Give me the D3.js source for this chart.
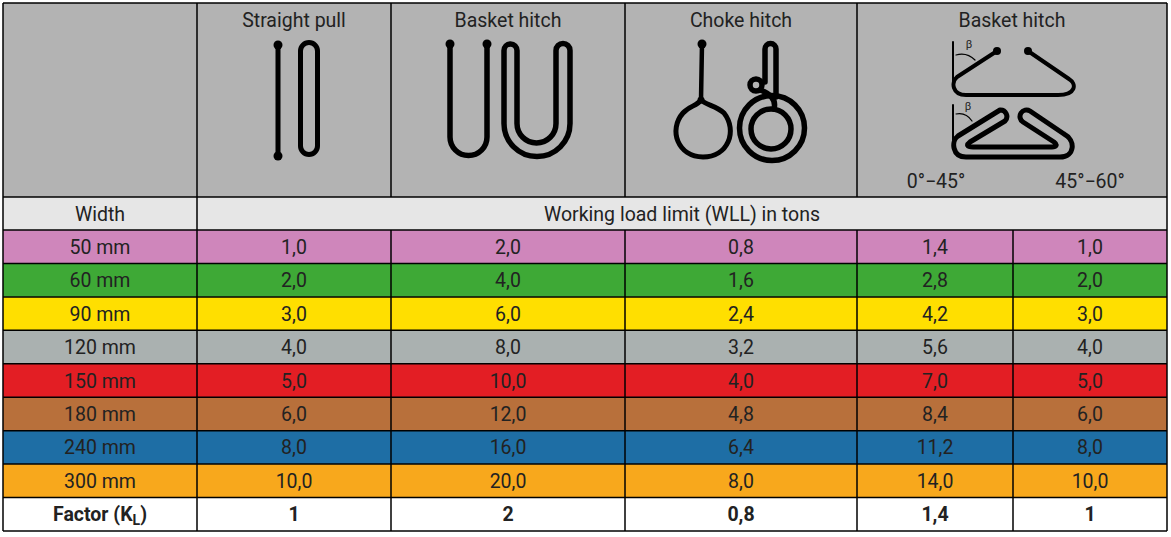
<!DOCTYPE html>
<html>
<head>
<meta charset="utf-8">
<script src="https://cdn.jsdelivr.net/npm/d3@7"></script>
<style>
  body { margin: 0; background: #fff; }
  text { font-family: Roboto, "Noto Sans", sans-serif; fill: #222; }
</style>
</head>
<body>
<div id="chart"></div>
<script>
// Table data
const widths = ["50 mm", "60 mm", "90 mm", "120 mm", "150 mm", "180 mm", "240 mm", "300 mm"];
const rowColors = ["#cf86bb", "#3ea936", "#ffdf00", "#aab1b0", "#e31e24", "#b8703b", "#1e6ea5", "#f8a81c"];
const straightPull = ["1,0", "2,0", "3,0", "4,0", "5,0", "6,0", "8,0", "10,0"];
const basketHitch = ["2,0", "4,0", "6,0", "8,0", "10,0", "12,0", "16,0", "20,0"];
const chokeHitch = ["0,8", "1,6", "2,4", "3,2", "4,0", "4,8", "6,4", "8,0"];
const basket0to45 = ["1,4", "2,8", "4,2", "5,6", "7,0", "8,4", "11,2", "14,0"];
const basket45to60 = ["1,0", "2,0", "3,0", "4,0", "5,0", "6,0", "8,0", "10,0"];
const factors = ["1", "2", "0,8", "1,4", "1"];
const headers = ["Straight pull", "Basket hitch", "Choke hitch", "Basket hitch"];
const angleLabels = ["0°−45°", "45°−60°"];

const W = 1171, H = 537;
const FS = 19.5;
const svg = d3.select("#chart").append("svg")
    .attr("width", W).attr("height", H);

// Column edges (layout)
const colEdges = [3, 197, 391, 625, 857, 1013, 1167];
const tableTop = 3, headBottom = 197, widthRowBottom = 230, tableBottom = 531;

// Rows: 8 width rows + factor row
const rowKeys = widths.concat(["factor"]);
const y = d3.scaleBand().domain(rowKeys).range([widthRowBottom, tableBottom]);

const columns = [widths, straightPull, basketHitch, chokeHitch, basket0to45, basket45to60];

// Header background
svg.append("rect").attr("x", colEdges[0]).attr("y", tableTop)
    .attr("width", colEdges[6] - colEdges[0]).attr("height", headBottom - tableTop)
    .attr("fill", "#b3b3b3");
svg.append("rect").attr("x", colEdges[0]).attr("y", headBottom)
    .attr("width", colEdges[6] - colEdges[0]).attr("height", widthRowBottom - headBottom)
    .attr("fill", "#e6e6e6");

// Row backgrounds
svg.selectAll("rect.row").data(rowKeys).enter().append("rect")
    .attr("class", "row")
    .attr("x", colEdges[0]).attr("y", d => y(d))
    .attr("width", colEdges[6] - colEdges[0]).attr("height", y.bandwidth())
    .attr("fill", (d, i) => i < rowColors.length ? rowColors[i] : "#fff");

// Cell text
columns.forEach((col, c) => {
    const cx = (colEdges[c] + colEdges[c + 1]) / 2;
    svg.selectAll(null).data(col).enter().append("text")
        .attr("x", cx)
        .attr("y", (d, i) => y(widths[i]) + y.bandwidth() / 2 + 7)
        .attr("text-anchor", "middle")
        .attr("font-size", FS)
        .text(d => d);
});

// Factor row
const fy = y("factor") + y.bandwidth() / 2 + 7;
const ft = svg.append("text")
    .attr("x", (colEdges[0] + colEdges[1]) / 2).attr("y", fy)
    .attr("text-anchor", "middle").attr("font-size", FS).attr("font-weight", "bold");
ft.append("tspan").text("Factor (K");
ft.append("tspan").attr("font-size", 14).attr("dy", 4).text("L");
ft.append("tspan").attr("dy", -4).text(")");
svg.selectAll(null).data(factors).enter().append("text")
    .attr("x", (d, i) => (colEdges[i + 1] + colEdges[i + 2]) / 2)
    .attr("y", fy)
    .attr("text-anchor", "middle").attr("font-size", FS).attr("font-weight", "bold")
    .text(d => d);

// Width row labels
svg.append("text").attr("x", (colEdges[0] + colEdges[1]) / 2)
    .attr("y", (headBottom + widthRowBottom) / 2 + 7)
    .attr("text-anchor", "middle").attr("font-size", FS).text("Width");
svg.append("text").attr("x", (colEdges[1] + colEdges[6]) / 2)
    .attr("y", (headBottom + widthRowBottom) / 2 + 7)
    .attr("text-anchor", "middle").attr("font-size", FS).text("Working load limit (WLL) in tons");

// Header titles
const headCols = [[1, 2], [2, 3], [3, 4], [4, 6]];
headers.forEach((h, i) => {
    svg.append("text")
        .attr("x", (colEdges[headCols[i][0]] + colEdges[headCols[i][1]]) / 2)
        .attr("y", 27).attr("text-anchor", "middle").attr("font-size", FS)
        .text(h);
});
svg.append("text").attr("x", 936).attr("y", 188)
    .attr("text-anchor", "middle").attr("font-size", FS).text(angleLabels[0]);
svg.append("text").attr("x", 1090).attr("y", 188)
    .attr("text-anchor", "middle").attr("font-size", FS).text(angleLabels[1]);

// Icons
const icons = svg.append("g").attr("fill", "none").attr("stroke", "#000")
    .attr("stroke-linecap", "round").attr("stroke-linejoin", "round");
function dot(cx, cy, r) {
    svg.append("circle").attr("cx", cx).attr("cy", cy).attr("r", r || 4.5).attr("fill", "#000");
}

// Straight pull
icons.append("path").attr("stroke-width", 5).attr("d", "M278,45 L278,156");
dot(278, 45); dot(278, 156);
icons.append("rect").attr("stroke-width", 5)
    .attr("x", 300.5).attr("y", 42.5).attr("width", 17).attr("height", 112).attr("rx", 8.5);

// Basket hitch
icons.append("path").attr("stroke-width", 5.5)
    .attr("d", "M450,44 L450,137 A18.5,18.5 0 0 0 487,137 L487,44");
dot(450, 44); dot(487, 44);
icons.append("path").attr("stroke-width", 5.5)
    .attr("d", "M504,50.5 A6.5,6.5 0 0 1 517,50.5 L517,123.5 A19.5,19.5 0 0 0 556,123.5 L556,50.5 A7,7 0 0 1 570,50.5 L570,123.5 A33,33 0 0 1 504,123.5 Z");

// Choke hitch (left)
icons.append("path").attr("stroke-width", 4.5).attr("d", "M702,44 L701,100");
dot(702, 44); dot(701, 100, 3.5);
icons.append("path").attr("stroke-width", 5)
    .attr("d", "M701,100 C697,106 689,106 683,113 C668,130 678,157 703,157 C728,157 738,131 724,113 C717,106 706,105 701,100");

// Choke hitch (right)
icons.append("circle").attr("stroke-width", 5.5).attr("cx", 772).attr("cy", 128).attr("r", 32.5);
icons.append("circle").attr("stroke-width", 5.5).attr("cx", 771).attr("cy", 129).attr("r", 20);
icons.append("path").attr("stroke-width", 5.5)
    .attr("d", "M765,82 L765,49 A5.5,5.5 0 0 1 776,49 L776,97");
icons.append("circle").attr("stroke-width", 5.5).attr("cx", 756).attr("cy", 85).attr("r", 6);
icons.append("path").attr("stroke-width", 5.5)
    .attr("d", "M760,90 C768,93 777,98 774,109");

// Basket hitch (angles) - top
icons.append("path").attr("stroke-width", 2).attr("d", "M953,42 L953,84");
icons.append("path").attr("stroke-width", 4)
    .attr("d", "M997,51 L957,77 C951,82 952,95 966,95 L1058,95 C1076,95 1077,84 1069,79 L1028,51");
dot(997, 51, 4); dot(1028, 51, 4);
icons.append("path").attr("stroke-width", 1.2).attr("d", "M956,55 Q967,52 975,60");
svg.append("text").attr("x", 969).attr("y", 48).attr("text-anchor", "middle")
    .attr("font-size", 11).text("β");

// Basket hitch (angles) - bottom
icons.append("path").attr("stroke-width", 2).attr("d", "M953,105 L953,140");
icons.append("path").attr("stroke-width", 5)
    .attr("d", "M1000,110 L958,136 C951,141 952,157 966,157 L1060,157 C1075,157 1076,140 1064,134 L1030,111 A6.5,6.5 0 0 0 1023,122 L1054,142 C1058,145 1056,147 1052,147 L973,147 C967,147 966,145 970,142 L1005,121 A6.5,6.5 0 0 0 1000,110 Z");
icons.append("path").attr("stroke-width", 1.2).attr("d", "M956,114 Q966,112 972,121");
svg.append("text").attr("x", 968).attr("y", 110).attr("text-anchor", "middle")
    .attr("font-size", 11).text("β");

// Grid lines
const grid = svg.append("g").attr("stroke", "#000").attr("stroke-width", 1.5);
const hLines = [tableTop, headBottom, widthRowBottom].concat(rowKeys.map(d => y(d) + y.bandwidth()));
grid.selectAll(null).data(hLines).enter().append("line")
    .attr("x1", colEdges[0]).attr("x2", colEdges[6])
    .attr("y1", d => d).attr("y2", d => d);
// vertical lines
[0, 1, 2, 3, 4, 6].forEach(c => {
    grid.append("line").attr("x1", colEdges[c]).attr("x2", colEdges[c])
        .attr("y1", tableTop).attr("y2", c === 0 || c === 6 || c === 1 ? tableBottom : headBottom);
});
[2, 3, 4, 5].forEach(c => {
    grid.append("line").attr("x1", colEdges[c]).attr("x2", colEdges[c])
        .attr("y1", widthRowBottom).attr("y2", tableBottom);
});
</script>
</body>
</html>
